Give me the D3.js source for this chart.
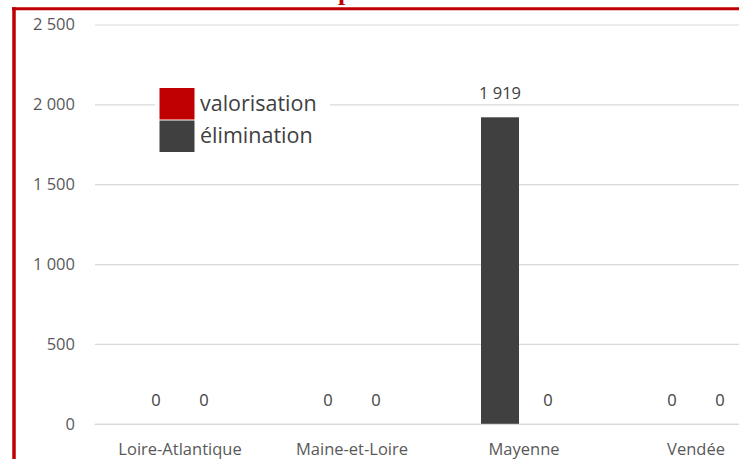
<!DOCTYPE html>
<html><head><meta charset="utf-8">
<script src="https://cdn.jsdelivr.net/npm/d3@7"></script>
<style>body{margin:0;background:#fff;overflow:hidden}svg{display:block}</style>
</head><body>
<script>
const categories = ["Loire-Atlantique", "Maine-et-Loire", "Mayenne", "Vendée"];
const seriesNames = ["élimination", "valorisation"];
const elimination = [0, 0, 1919, 0];
const valorisation = [0, 0, 0, 0];
const yTicks = [0, 500, 1000, 1500, 2000, 2500];
const legendOrder = ["valorisation", "élimination"];
const colors = {"valorisation": "#C00000", "élimination": "#404040"};
const titleText = "Exportations";

const W = 739, H = 459;
const svg = d3.select("body").append("svg").attr("width", W).attr("height", H);
const font = "'Open Sans', 'Segoe UI', sans-serif";

// title (cut off at top in the reference)
svg.append("text").attr("x", 380).attr("y", -0.5).attr("text-anchor", "middle")
  .attr("font-family", "'Liberation Serif', serif").attr("font-weight", "bold")
  .attr("font-size", 26).attr("fill", "#C00000").text(titleText);

// frame
svg.append("rect").attr("x", 0).attr("y", 10).attr("width", W).attr("height", H).attr("fill", "#fff");
svg.append("line").attr("x1", 12).attr("x2", W).attr("y1", 8.75).attr("y2", 8.75)
  .attr("stroke", "#C00000").attr("stroke-width", 3);
svg.append("line").attr("x1", 14).attr("x2", 14).attr("y1", 7.25).attr("y2", H)
  .attr("stroke", "#C00000").attr("stroke-width", 3.5);

const y = d3.scaleLinear().domain([0, 2500]).range([423.8, 24.5]);
const x0 = d3.scaleBand().domain(categories).range([94, 782]);
const x1 = d3.scaleBand().domain(seriesNames).range([0, 86]).paddingInner(0.208);
const off = (x0.bandwidth() - 86) / 2;
const fmt = v => d3.format(",")(v).replace(/,/g, " ");

// gridlines
const yAxis = d3.axisLeft(y).tickValues(yTicks).tickSize(-(W - 95)).tickFormat(fmt);
const gy = svg.append("g").attr("transform", "translate(95,0)").call(yAxis);
gy.select(".domain").remove();
gy.selectAll(".tick line").attr("stroke", "#D9D9D9").attr("stroke-width", 1.2);
gy.selectAll(".tick text").attr("x", -20).attr("font-family", font).attr("font-size", 16.5).attr("fill", "#595959");

// x axis
const xAxis = d3.axisBottom(x0).tickSize(0).tickPadding(19);
const gx = svg.append("g").attr("transform", `translate(0,${y(0)})`).call(xAxis);
gx.select(".domain").attr("stroke", "#D9D9D9").attr("stroke-width", 1.2);
gx.selectAll(".tick text").attr("font-family", font).attr("font-size", 16.5).attr("fill", "#595959");

const data = categories.map((c, i) => ({cat: c, vals: [
  {s: "élimination", v: elimination[i]}, {s: "valorisation", v: valorisation[i]}]}));

const groups = svg.append("g").selectAll("g").data(data).join("g")
  .attr("transform", d => `translate(${x0(d.cat) + off},0)`);
groups.selectAll("rect").data(d => d.vals).join("rect")
  .attr("x", d => x1(d.s)).attr("width", x1.bandwidth())
  .attr("y", d => y(d.v)).attr("height", d => y(0) - y(d.v))
  .attr("fill", d => colors[d.s]);
groups.selectAll("text").data(d => d.vals).join("text")
  .attr("x", d => x1(d.s) + x1.bandwidth() / 2).attr("y", d => y(d.v) - 18)
  .attr("text-anchor", "middle").attr("font-family", font).attr("font-size", 16.5).attr("fill", "#404040")
  .text(d => fmt(d.v));

// legend
const lg = svg.append("g").attr("transform", "translate(155,86)");
lg.append("rect").attr("x", 0).attr("y", 0).attr("width", 175).attr("height", 66).attr("fill", "#fff");
legendOrder.forEach((s, i) => {
  lg.append("rect").attr("x", 4.5).attr("y", 2 + i * 32.5).attr("width", 35).attr("height", 31.5).attr("fill", colors[s]);
  lg.append("text").attr("x", 45).attr("y", 19 + i * 32.5).attr("dominant-baseline", "middle")
    .attr("font-family", font).attr("font-size", 21.5).attr("fill", "#404040").text(s);
});
</script>
</body></html>
